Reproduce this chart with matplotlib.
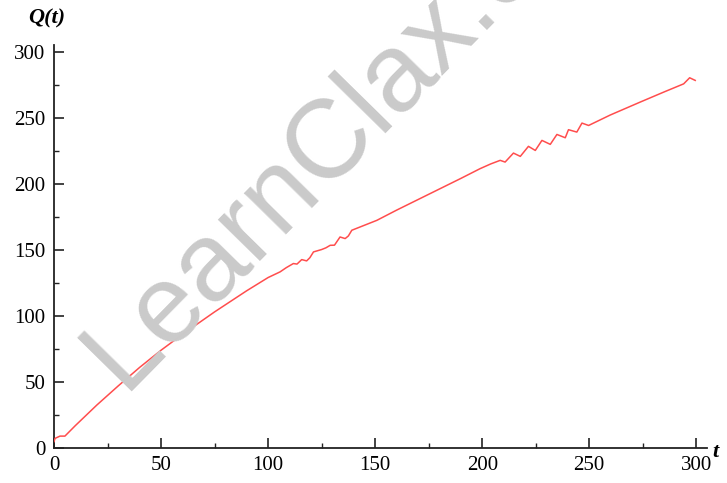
import matplotlib
matplotlib.use("Agg")
import matplotlib.pyplot as plt

# values
t_vals = [0, 0.5, 2.8, 5.1, 10, 20, 30, 40, 50, 60, 75, 90, 100, 105.6,
          108.5, 111.8, 113.5, 115.7, 118, 119.5, 121.2, 125, 127, 129, 131,
          133.6, 136, 137.5, 139.1, 143, 150.8, 160, 175, 190, 199, 204,
          208.4, 210.7, 214.6, 217.8, 221.6, 224.8, 227.9, 231.8, 234.9,
          238.8, 240.3, 244.2, 246.6, 249.7, 259.8, 273.8, 285, 294.1,
          296.9, 299.5]
q_vals = [4.8, 7.3, 9, 9, 17, 32.5, 47, 61, 74, 86, 103, 119, 129, 133.3,
          136.5, 139.6, 139.2, 142.6, 141.6, 144, 148.4, 150.2, 151.5, 153.4,
          153.5, 159.7, 158.5, 160.5, 164.8, 167.3, 172.3, 180, 192, 204,
          211.4, 215, 217.7, 216.4, 223.2, 220.7, 228.3, 225.2, 232.8, 229.8,
          237.3, 234.8, 240.9, 239.1, 245.9, 244.1, 252, 261.8, 269.5, 275.6,
          280.2, 278.2]
major_ticks = [0, 50, 100, 150, 200, 250, 300]
minor_ticks = [25, 75, 125, 175, 225, 275]

fig = plt.figure(figsize=(7.27, 4.83), dpi=100)
ax = fig.add_axes([54 / 727, 35 / 483, 653 / 727, 403 / 483])

# watermark
fig.text(0.17, 0.19, "LearnClax.com", family="Liberation Sans",
         fontsize=80, color="#cacaca", rotation=45.5, rotation_mode="anchor",
         ha="left", va="baseline", zorder=0)

ax.plot(t_vals, q_vals, color="#ff4d4d", lw=1.1, zorder=3)

ax.set_xlim(0, 305)
ax.set_ylim(0, 305)
ax.patch.set_alpha(0)
for s in ["top", "right"]:
    ax.spines[s].set_visible(False)
for s in ["left", "bottom"]:
    ax.spines[s].set_color("#222222")
    ax.spines[s].set_linewidth(1.3)

ax.set_xticks(major_ticks)
ax.set_yticks(major_ticks)
ax.set_xticks(minor_ticks, minor=True)
ax.set_yticks(minor_ticks, minor=True)
ax.tick_params(which="major", direction="in", length=7.5, width=1.2,
               color="#222222", labelsize=15, pad=6)
ax.tick_params(which="minor", direction="in", length=3.8, width=1.0,
               color="#222222")
for lab in ax.get_xticklabels() + ax.get_yticklabels():
    lab.set_family("Liberation Serif")

fig.text(47 / 727, 1 - 18 / 483, "Q(t)", family="Liberation Serif",
         style="italic", weight="bold", fontsize=16, ha="center", va="center")
fig.text(712 / 727, 1 - 452 / 483, "t", family="Liberation Serif",
         style="italic", weight="bold", fontsize=16, ha="left", va="center")

fig.savefig("out.png", dpi=100)
